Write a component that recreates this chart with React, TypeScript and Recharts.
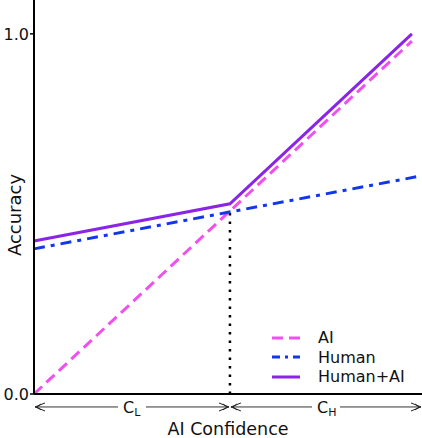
import React from "react";
import {
  LineChart,
  Line,
  XAxis,
  YAxis,
  Legend,
  ReferenceLine,
} from "recharts";

// AI confidence (x) and accuracy (y) for each curve
const aiConfidence = [0, 0.505, 0.974];
const aiAccuracy = [0, 0.508, 0.98];
const humanConfidence = [0, 0.985];
const humanAccuracy = [0.403, 0.603];
const teamConfidence = [0, 0.505, 0.974];
const teamAccuracy = [0.425, 0.528, 1.0];

const threshold = 0.505;
const thresholdAccuracy = 0.508;
const yTicks = [0, 1];
const regionLabels = [
  { main: "C", sub: "L", from: 0, to: threshold },
  { main: "C", sub: "H", from: threshold, to: 1 },
];

const FONT = "DejaVu Sans, Verdana, sans-serif";
const AI_COLOR = "#f050f0";
const HUMAN_COLOR = "#1236ee";
const TEAM_COLOR = "#8a24e6";

const toPoints = (xs: number[], ys: number[]) =>
  xs.map((x, i) => ({ x, y: ys[i] }));

const series = [
  { name: "AI", data: toPoints(aiConfidence, aiAccuracy), color: AI_COLOR, dash: "11 6" },
  { name: "Human", data: toPoints(humanConfidence, humanAccuracy), color: HUMAN_COLOR, dash: "11 6 4 6" },
  { name: "Human+AI", data: toPoints(teamConfidence, teamAccuracy), color: TEAM_COLOR, dash: undefined },
];

const arrowHead = (x: number, y: number, dir: number) => (
  <g stroke="#222" strokeWidth={1} fill="none">
    <path d={`M${x + dir * 10},${y - 4} L${x},${y} L${x + dir * 10},${y + 4}`} />
    <path d={`M${x + dir * 6},${y - 3} L${x + dir * 2},${y} L${x + dir * 6},${y + 3}`} />
  </g>
);

const RangeArrow = (label: { main: string; sub: string }) => (props: any) => {
  const { x1, x2, y1 } = props;
  const left = Math.min(x1, x2) + 1;
  const right = Math.max(x1, x2) - 1;
  const mid = (left + right) / 2;
  const gap = 14;
  return (
    <g>
      <line x1={left} y1={y1} x2={mid - gap} y2={y1} stroke="#333" strokeWidth={1} />
      <line x1={mid + gap} y1={y1} x2={right} y2={y1} stroke="#333" strokeWidth={1} />
      {arrowHead(left, y1, 1)}
      {arrowHead(right, y1, -1)}
      <text x={mid - 9} y={y1 + 6} fontFamily={FONT} fontSize={16} fill="#111">
        {label.main}
        <tspan fontSize={11} dy={3}>{label.sub}</tspan>
      </text>
    </g>
  );
};

const YTitle = (props: any) => {
  const vb = props.viewBox || { x: 0, y: 0, width: 34, height: 394 };
  const cx = vb.x + 14;
  const cy = vb.y + vb.height / 2 + 18;
  return (
    <text
      transform={`translate(${cx},${cy}) rotate(-90)`}
      textAnchor="middle"
      dominantBaseline="central"
      fontFamily={FONT}
      fontSize={18}
      fill="#111"
    >
      Accuracy
    </text>
  );
};

const LegendBox = () => (
  <div style={{ fontFamily: FONT, fontSize: 16, color: "#111", textAlign: "left" }}>
    {series.map((s) => (
      <div key={s.name} style={{ display: "flex", alignItems: "center", height: 19.5 }}>
        <svg width={50} height={10}>
          <line
            x1={4}
            y1={5}
            x2={32}
            y2={5}
            stroke={s.color}
            strokeWidth={3}
            strokeDasharray={s.name === "Human" ? "8 5 3 5" : s.dash ? "11 6" : undefined}
          />
        </svg>
        <span>{s.name}</span>
      </div>
    ))}
  </div>
);

export default function App() {
  return (
    <div style={{ position: "absolute", left: 0, top: 0, background: "#fff" }}>
      <LineChart width={422} height={438} margin={{ top: 0, right: 0, bottom: 0, left: 0 }}>
        <XAxis
          type="number"
          dataKey="x"
          domain={[0, 1]}
          ticks={[]}
          tick={false}
          height={44}
          axisLine={{ stroke: "#000", strokeWidth: 2 }}
          label={{
            value: "AI Confidence",
            position: "insideBottom",
            offset: 3,
            style: { fontFamily: FONT, fontSize: 17.5, fill: "#111" },
          }}
        />
        <YAxis
          type="number"
          dataKey="y"
          domain={[0, 1.094]}
          ticks={yTicks}
          tickFormatter={(v: number) => v.toFixed(1)}
          width={34}
          tickSize={4}
          tickMargin={1}
          tickLine={{ stroke: "#000", strokeWidth: 1.5 }}
          axisLine={{ stroke: "#000", strokeWidth: 2 }}
          tick={{ fontFamily: FONT, fontSize: 16, fill: "#111" }}
          label={{ content: YTitle }}
        />
        <ReferenceLine
          segment={[
            { x: threshold, y: 0 },
            { x: threshold, y: thresholdAccuracy },
          ]}
          stroke="#000"
          strokeWidth={2.5}
          strokeDasharray="2.5 6"
        />
        {regionLabels.map((r) => (
          <ReferenceLine
            key={r.sub}
            segment={[
              { x: r.from, y: -0.036 },
              { x: r.to, y: -0.036 },
            ]}
            ifOverflow="visible"
            shape={RangeArrow(r)}
          />
        ))}
        {series.map((s) => (
          <Line
            key={s.name}
            data={s.data}
            dataKey="y"
            name={s.name}
            type="linear"
            stroke={s.color}
            strokeWidth={3}
            strokeDasharray={s.dash}
            dot={false}
            activeDot={false}
            isAnimationActive={false}
          />
        ))}
        <Legend
          content={<LegendBox />}
          layout="horizontal"
          verticalAlign="middle"
          align="center"
          wrapperStyle={{ left: 268, top: 328, width: 154 }}
        />
      </LineChart>
    </div>
  );
}
